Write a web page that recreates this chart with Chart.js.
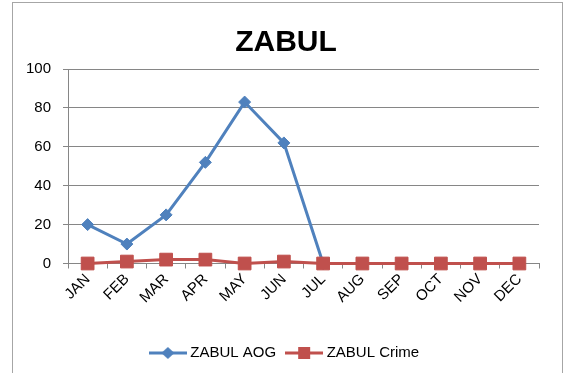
<!DOCTYPE html>
<html>
<head>
<meta charset="utf-8">
<script src="https://cdn.jsdelivr.net/npm/chart.js@4.4.1/dist/chart.umd.min.js"></script>
<style>
  html, body { margin: 0; padding: 0; background: #fff; overflow: hidden; }
  #wrap { position: relative; width: 567px; height: 373px; }
  #frame { position: absolute; left: 12px; top: 2px; width: 551px; height: 400px; border: 1.5px solid #a6a6a6; box-sizing: border-box; }
  #zabulChart { position: absolute; left: 0; top: 0; }
</style>
</head>
<body>
<div id="wrap">
  <div id="frame"></div>
  <canvas id="zabulChart" width="567" height="373"></canvas>
</div>
<script>
const months = ["JAN", "FEB", "MAR", "APR", "MAY", "JUN", "JUL", "AUG", "SEP", "OCT", "NOV", "DEC"];
const aogValues = [20, 10, 25, 52, 83, 62, 0, null, null, null, null, null];
const crimeValues = [0, 1, 2, 2, 0, 1, 0, 0, 0, 0, 0, 0];
const yTicks = [0, 20, 40, 60, 80, 100];

const BLUE = "#4F81BD";
const RED = "#C0504D";
const FONT = "'Liberation Sans', Arial, sans-serif";

// legend swatch: short line with the series marker in the middle
function legendSwatch(color, marker) {
    const c = document.createElement("canvas");
    c.width = 38;
    c.height = 14;
    const g = c.getContext("2d");
    g.strokeStyle = color;
    g.lineWidth = 3;
    g.beginPath();
    g.moveTo(0, 7);
    g.lineTo(38, 7);
    g.stroke();
    g.fillStyle = color;
    g.beginPath();
    if (marker === "diamond") {
        g.moveTo(19, 1); g.lineTo(25.5, 7); g.lineTo(19, 13); g.lineTo(12.5, 7);
    } else {
        g.rect(13, 1, 12, 12);
    }
    g.closePath();
    g.fill();
    return c;
}

const swatches = [legendSwatch(BLUE, "diamond"), legendSwatch(RED, "square")];

new Chart(document.getElementById("zabulChart").getContext("2d"), {
    type: "line",
    data: {
        labels: months,
        datasets: [{
            label: "ZABUL AOG",
            data: aogValues,
            borderColor: BLUE,
            backgroundColor: BLUE,
            borderWidth: 3,
            pointStyle: "rectRot",
            pointRadius: 6,
            pointBorderWidth: 1,
            spanGaps: false,
            tension: 0,
            clip: false,
            order: 1
        }, {
            label: "ZABUL Crime",
            data: crimeValues,
            borderColor: RED,
            backgroundColor: RED,
            borderWidth: 3,
            pointStyle: "rect",
            pointRadius: 9,
            pointBorderWidth: 1,
            tension: 0,
            clip: false,
            order: 0
        }]
    },
    options: {
        responsive: false,
        animation: false,
        events: [],
        layout: { padding: { left: 5, right: 0, top: 0, bottom: 2.5 } },
        plugins: {
            tooltip: { enabled: false },
            title: {
                display: true,
                text: "ZABUL",
                color: "#000",
                font: { family: FONT, size: 30, weight: "bold", lineHeight: 1.2 },
                padding: { top: 25, bottom: 8 }
            },
            legend: {
                position: "bottom",
                labels: {
                    usePointStyle: true,
                    pointStyleWidth: 30,
                    padding: 13,
                    color: "#000",
                    font: { family: FONT, size: 15 },
                    generateLabels: chart => chart.data.datasets.map((ds, i) => ({
                        text: ds.label,
                        pointStyle: swatches[i],
                        fillStyle: ds.borderColor,
                        strokeStyle: ds.borderColor,
                        lineWidth: 0,
                        hidden: false,
                        datasetIndex: i
                    }))
                }
            }
        },
        scales: {
            x: {
                offset: true,
                border: { display: true, color: "#868686", width: 1 },
                grid: {
                    offset: true,
                    drawOnChartArea: false,
                    drawTicks: true,
                    tickLength: 5,
                    color: "#868686"
                },
                ticks: {
                    color: "#000",
                    font: { family: FONT, size: 15 },
                    minRotation: 45,
                    maxRotation: 45,
                    padding: 2,
                    autoSkip: false
                },
                afterFit: scale => { scale.height = 69; }
            },
            y: {
                min: 0,
                max: 100,
                border: { display: true, color: "#868686", width: 1 },
                grid: { color: "#868686", tickLength: 5, drawTicks: true },
                afterBuildTicks: scale => { scale.ticks = yTicks.map(v => ({ value: v })); },
                ticks: {
                    color: "#000",
                    font: { family: FONT, size: 15 },
                    padding: 12
                },
                afterFit: scale => { scale.width = 63; }
            },
            // empty right-hand gutter so the plot stops short of the frame
            gutter: {
                type: "linear",
                position: "right",
                display: true,
                border: { display: false },
                grid: { display: false, drawTicks: false },
                ticks: { display: false },
                afterFit: scale => { scale.width = 28; }
            }
        }
    }
});
</script>
</body>
</html>
